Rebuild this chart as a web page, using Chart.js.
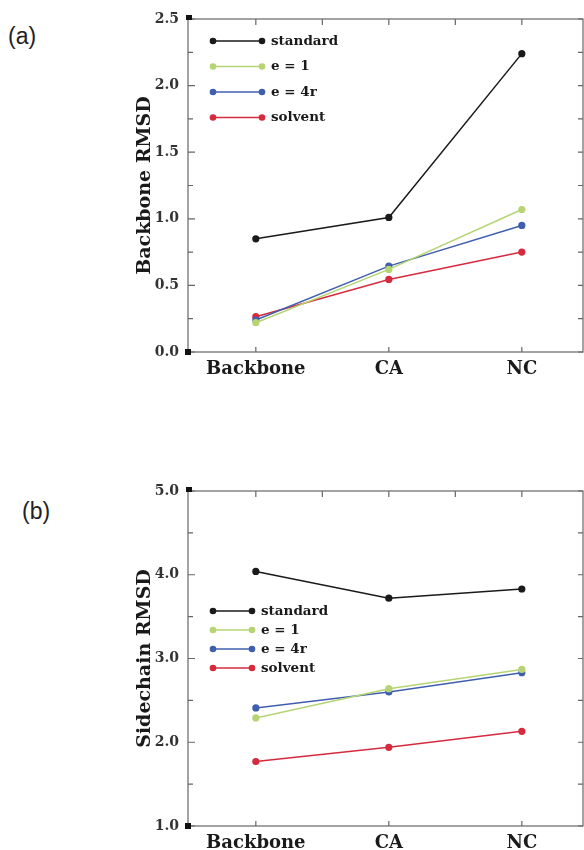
<!DOCTYPE html>
<html>
<head>
<meta charset="utf-8">
<script src="https://cdn.jsdelivr.net/npm/chart.js@4.4.1/dist/chart.umd.min.js"></script>
<style>
  body { margin: 0; width: 584px; height: 850px; overflow: hidden; background: #fff; position: relative; }
  .panel { position: absolute; left: 0; }
  .tag { position: absolute; font-family: "Liberation Sans", Arial, sans-serif; font-size: 23px; line-height: 1; color: #222; }
</style>
</head>
<body>
<div class="tag" style="left:8px; top:25px;">(a)</div>
<div class="tag" style="left:22px; top:500px;">(b)</div>
<div class="panel" style="top:0;"><canvas id="chartA" width="587" height="400"></canvas></div>
<div class="panel" style="top:450px;"><canvas id="chartB" width="587" height="420"></canvas></div>
<script>
const categories = ['Backbone', 'CA', 'NC'];
const seriesNames = ['standard', 'e = 1', 'e = 4r', 'solvent'];
const seriesColors = ['#1a1a1a', '#b6d474', '#3f5fae', '#d62a3e'];

// (a) backbone RMSD
const backboneStandard = [0.85, 1.01, 2.24];
const backboneE1 = [0.22, 0.62, 1.07];
const backboneE4r = [0.24, 0.645, 0.95];
const backboneSolvent = [0.265, 0.545, 0.75];
const backboneYTicks = [0.0, 0.5, 1.0, 1.5, 2.0, 2.5];

// (b) sidechain RMSD
const sidechainStandard = [4.04, 3.72, 3.83];
const sidechainE1 = [2.29, 2.64, 2.87];
const sidechainE4r = [2.41, 2.60, 2.83];
const sidechainSolvent = [1.77, 1.94, 2.13];
const sidechainYTicks = [1.0, 2.0, 3.0, 4.0, 5.0];

const serif = '"DejaVu Serif", serif';

// frame with inward ticks on all four sides, like the original plot
const framePlugin = {
    id: 'frame',
    beforeDatasetsDraw(chart) {
        const { ctx, chartArea: { left, right, top, bottom } } = chart;
        const xs = chart.scales.x, ys = chart.scales.y;
        const yt = ys.ticks.map(t => t.value);
        const half = (yt[1] - yt[0]) / 2;
        ctx.save();
        ctx.strokeStyle = '#666';
        ctx.lineWidth = 1.2;
        ctx.strokeRect(left, top, right - left, bottom - top);
        ctx.beginPath();
        for (let v = yt[0]; v <= yt[yt.length - 1] + 1e-9; v += half) {
            const py = ys.getPixelForValue(v);
            const major = yt.some(t => Math.abs(t - v) < 1e-9);
            ctx.moveTo(left, py);
            ctx.lineTo(left + (major ? 7 : 5), py);
            ctx.moveTo(right, py);
            ctx.lineTo(right - 5, py);
        }
        for (let i = 0; i < categories.length; i += 0.5) {
            const px = xs.getPixelForValue(i);
            ctx.moveTo(px, top);
            ctx.lineTo(px, top + 6);
            if (Number.isInteger(i)) {
                ctx.moveTo(px, bottom);
                ctx.lineTo(px, bottom - 5);
            }
        }
        ctx.stroke();
        ctx.fillStyle = '#111';
        ctx.fillRect(left - 2, top - 4, 6, 5);
        ctx.fillRect(left - 3, bottom - 3, 6, 6);
        ctx.restore();
    }
};

// legend drawn inside the plot area
const insideLegend = {
    id: 'insideLegend',
    afterDraw(chart, args, opts) {
        const { ctx } = chart;
        ctx.save();
        ctx.font = 'bold 13.5px ' + serif;
        ctx.textBaseline = 'middle';
        chart.data.datasets.forEach((ds, i) => {
            const y = opts.y + i * opts.gap;
            ctx.strokeStyle = ds.borderColor;
            ctx.fillStyle = ds.borderColor;
            ctx.lineWidth = 1.5;
            ctx.beginPath();
            ctx.moveTo(opts.x, y);
            ctx.lineTo(opts.x + opts.len, y);
            ctx.stroke();
            [opts.x, opts.x + opts.len].forEach(px => {
                ctx.beginPath();
                ctx.arc(px, y, 3.3, 0, Math.PI * 2);
                ctx.fill();
            });
            ctx.fillStyle = '#1a1a1a';
            ctx.fillText(ds.label, opts.x + opts.len + 9, y);
        });
        ctx.restore();
    }
};

function makeChart(id, values, yTicks, title, padTop, xHeight, legend) {
    const ctx = document.getElementById(id).getContext('2d');
    return new Chart(ctx, {
        type: 'line',
        data: {
            datasets: values.map((vals, i) => ({
                label: seriesNames[i],
                data: vals.map((v, j) => ({ x: j, y: v })),
                borderColor: seriesColors[i],
                backgroundColor: seriesColors[i],
                pointBackgroundColor: seriesColors[i],
                borderWidth: 1.5,
                pointRadius: 3.6,
                pointBorderWidth: 0,
                tension: 0
            }))
        },
        options: {
            responsive: false,
            animation: false,
            layout: { padding: { left: 134, right: 1, top: padTop, bottom: 0 } },
            scales: {
                x: {
                    type: 'linear',
                    min: -0.51,
                    max: 2.46,
                    afterBuildTicks: s => { s.ticks = categories.map((c, i) => ({ value: i })); },
                    afterFit: s => { s.height = xHeight; },
                    grid: { display: false, drawTicks: false },
                    border: { display: false },
                    ticks: {
                        callback: v => categories[v],
                        font: { family: serif, size: 18, weight: 'bold' },
                        color: '#1a1a1a',
                        padding: 7,
                        maxRotation: 0
                    }
                },
                y: {
                    min: yTicks[0],
                    max: yTicks[yTicks.length - 1],
                    afterBuildTicks: s => { s.ticks = yTicks.map(v => ({ value: v })); },
                    afterFit: s => { s.width = 54; },
                    grid: { display: false, drawTicks: false },
                    border: { display: false },
                    ticks: {
                        callback: v => v.toFixed(1),
                        font: { family: serif, size: 14, weight: 'bold' },
                        color: '#333',
                        padding: 9
                    },
                    title: {
                        display: true,
                        text: title,
                        font: { family: serif, size: 19, weight: 'bold' },
                        color: '#1a1a1a',
                        padding: 0
                    }
                }
            },
            plugins: {
                legend: { display: false },
                tooltip: { enabled: false },
                insideLegend: legend
            }
        },
        plugins: [framePlugin, insideLegend]
    });
}

makeChart('chartA',
    [backboneStandard, backboneE1, backboneE4r, backboneSolvent],
    backboneYTicks, 'Backbone RMSD', 19, 48,
    { x: 213, y: 41, gap: 25.5, len: 49 });

makeChart('chartB',
    [sidechainStandard, sidechainE1, sidechainE4r, sidechainSolvent],
    sidechainYTicks, 'Sidechain RMSD', 41, 44,
    { x: 213, y: 161, gap: 19, len: 39 });
</script>
</body>
</html>
